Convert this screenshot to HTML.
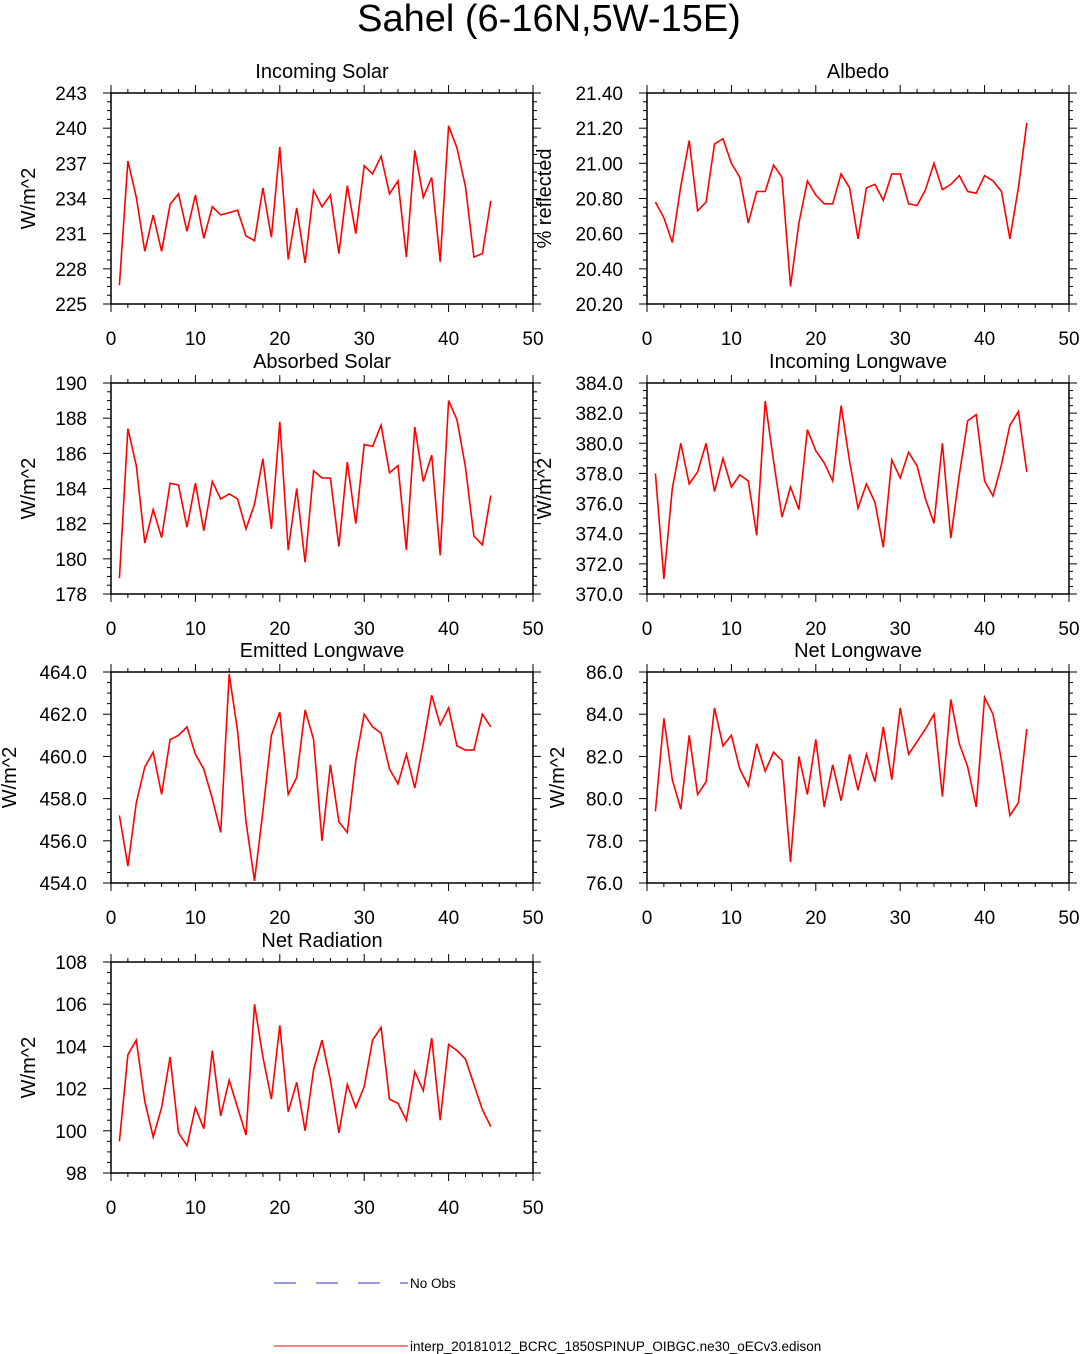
<!DOCTYPE html>
<html><head><meta charset="utf-8">
<style>
html,body{margin:0;padding:0;background:#fff;}
svg{display:block;font-family:"Liberation Sans",Arial,sans-serif;}
</style></head>
<body>
<svg id="fig" width="1081" height="1354" viewBox="0 0 1081 1354" xmlns="http://www.w3.org/2000/svg">
<text x="549" y="31" font-size="38" text-anchor="middle">Sahel (6-16N,5W-15E)</text>
<g>
<line x1="274" y1="1283" x2="408" y2="1283" stroke="#3333cc" stroke-width="1" stroke-dasharray="22,20"/>
<text x="410" y="1288" font-size="13.5">No Obs</text>
<line x1="274" y1="1346" x2="408" y2="1346" stroke="#ff0000" stroke-width="1"/>
<text x="410" y="1351" font-size="13.5">interp_20181012_BCRC_1850SPINUP_OIBGC.ne30_oECv3.edison</text>
</g>
</svg>
<script>
const xTicks=[0,10,20,30,40,50];
const solarVals=[226.6,237.2,234.1,229.5,232.6,229.5,233.5,234.4,231.2,234.3,230.6,233.3,232.6,232.8,233.0,230.8,230.4,234.9,230.7,238.4,228.8,233.2,228.5,234.7,233.3,234.3,229.3,235.1,231.0,236.8,236.1,237.6,234.4,235.5,229.0,238.1,234.1,235.8,228.6,240.2,238.3,235.0,229.0,229.3,233.8];
const albedoVals=[20.78,20.69,20.55,20.87,21.13,20.73,20.78,21.11,21.14,21.00,20.92,20.66,20.84,20.84,20.99,20.92,20.30,20.66,20.90,20.82,20.77,20.77,20.94,20.86,20.57,20.86,20.88,20.79,20.94,20.94,20.77,20.76,20.85,21.00,20.85,20.88,20.93,20.84,20.83,20.93,20.90,20.84,20.57,20.86,21.23];
const absorbedVals=[178.9,187.4,185.3,180.9,182.8,181.2,184.3,184.2,181.8,184.3,181.6,184.4,183.4,183.7,183.4,181.7,183.1,185.7,181.7,187.8,180.5,184.0,179.8,185.0,184.6,184.6,180.7,185.5,182.0,186.5,186.4,187.6,184.9,185.3,180.5,187.5,184.4,185.9,180.2,189.0,187.9,185.2,181.3,180.8,183.6];
const inLwVals=[378.0,371.0,377.0,380.0,377.3,378.1,380.0,376.8,379.0,377.1,377.9,377.5,373.9,382.8,378.8,375.1,377.1,375.6,380.9,379.5,378.7,377.5,382.5,378.8,375.7,377.3,376.1,373.1,378.9,377.7,379.4,378.5,376.3,374.7,380.0,373.7,377.9,381.5,381.9,377.5,376.5,378.6,381.2,382.1,378.1];
const emLwVals=[457.2,454.8,457.8,459.5,460.2,458.2,460.8,461.0,461.4,460.1,459.4,458.0,456.4,463.9,461.2,456.9,454.1,457.4,461.0,462.1,458.2,459.0,462.2,460.8,456.0,459.6,456.9,456.4,459.8,462.0,461.4,461.1,459.4,458.7,460.1,458.5,460.6,462.9,461.5,462.3,460.5,460.3,460.3,462.0,461.4];
const netLwVals=[79.4,83.8,80.9,79.5,83.0,80.2,80.8,84.3,82.5,83.0,81.4,80.6,82.6,81.3,82.2,81.8,77.0,82.0,80.2,82.8,79.6,81.6,79.9,82.1,80.4,82.1,80.8,83.4,80.9,84.3,82.1,82.7,83.3,84.0,80.1,84.7,82.6,81.5,79.6,84.8,84.0,81.8,79.2,79.8,83.3];
const netRadVals=[99.5,103.6,104.3,101.4,99.7,101.1,103.5,99.9,99.3,101.1,100.1,103.8,100.7,102.4,101.1,99.8,106.0,103.5,101.5,105.0,100.9,102.3,100.0,102.9,104.3,102.4,99.9,102.2,101.1,102.1,104.3,104.9,101.5,101.3,100.5,102.8,101.9,104.4,100.5,104.1,103.8,103.4,102.2,101.0,100.2];
const solarTicks=[225,228,231,234,237,240,243];
const albedoTicks=[20.2,20.4,20.6,20.8,21.0,21.2,21.4];
const absorbedTicks=[178,180,182,184,186,188,190];
const inLwTicks=[370,372,374,376,378,380,382,384];
const emLwTicks=[454,456,458,460,462,464];
const netLwTicks=[76,78,80,82,84,86];
const netRadTicks=[98,100,102,104,106,108];

const NS="http://www.w3.org/2000/svg";
const svg=document.getElementById('fig');
function mk(tag,attrs,parent){const e=document.createElementNS(NS,tag);for(const k in attrs)e.setAttribute(k,attrs[k]);parent.appendChild(e);return e;}

function panel(key,title,ytitle,ytx,vals,ticks,dec,x0,y0){
  const W=422,H=211;
  const g=mk('g',{},svg);
  
  
  const ymin=ticks[0],ymax=ticks[ticks.length-1];
  const sx=v=>x0+v/50*W;
  const sy=v=>y0+H-(v-ymin)/(ymax-ymin)*H;
  const box=mk('rect',{x:x0,y:y0,width:W,height:H,fill:'none',stroke:'#000','stroke-width':1.5},g);
  
  
  for(let v=0;v<=50;v+=2){
    const major=v%10===0;const L=major?8:4;const x=sx(v);
    mk('line',{x1:x,y1:y0+H,x2:x,y2:y0+H+L,stroke:'#000','stroke-width':1},g);
    mk('line',{x1:x,y1:y0,x2:x,y2:y0-L,stroke:'#000','stroke-width':1},g);
  }
  xTicks.forEach(v=>{
    const t=mk('text',{x:sx(v),y:y0+H+41,'font-size':19,'text-anchor':'middle'},g);
    
    
    t.textContent=v;
  });
  const step=ticks[1]-ticks[0];
  for(let i=0;i<ticks.length;i++){
    const y=sy(ticks[i]);
    mk('line',{x1:x0,y1:y,x2:x0-8,y2:y,stroke:'#000','stroke-width':1},g);
    mk('line',{x1:x0+W,y1:y,x2:x0+W+8,y2:y,stroke:'#000','stroke-width':1},g);
    if(i<ticks.length-1){
      for(let k=1;k<4;k++){const ym=sy(ticks[i]+step*k/4);
        mk('line',{x1:x0,y1:ym,x2:x0-4,y2:ym,stroke:'#000','stroke-width':1},g);
        mk('line',{x1:x0+W,y1:ym,x2:x0+W+4,y2:ym,stroke:'#000','stroke-width':1},g);}
    }
    const t=mk('text',{x:x0-24,y:y+7,'font-size':19,'text-anchor':'end'},g);
    
    
    t.textContent=ticks[i].toFixed(dec);
  }
  const tt=mk('text',{x:x0+W/2,y:y0-15,'font-size':20,'text-anchor':'middle'},g);
  
  
  tt.textContent=title;
  const yy=y0+H/2;
  const yt=mk('text',{x:ytx,y:yy,'font-size':20,'text-anchor':'middle',transform:'rotate(-90 '+ytx+' '+yy+')'},g);
  
  
  yt.textContent=ytitle;
  const pts=vals.map((v,i)=>sx(i+1).toFixed(1)+','+sy(v).toFixed(1)).join(' ');
  const pl=mk('polyline',{points:pts,fill:'none',stroke:'#ff0000','stroke-width':1.6},g);
  
  
}
const LX=111,RX=647;
panel('incoming-solar','Incoming Solar','W/m^2',35,solarVals,solarTicks,0,LX,93);
panel('albedo','Albedo','% reflected',551,albedoVals,albedoTicks,2,RX,93);
panel('absorbed-solar','Absorbed Solar','W/m^2',35,absorbedVals,absorbedTicks,0,LX,383);
panel('incoming-longwave','Incoming Longwave','W/m^2',551,inLwVals,inLwTicks,1,RX,383);
panel('emitted-longwave','Emitted Longwave','W/m^2',16,emLwVals,emLwTicks,1,LX,672);
panel('net-longwave','Net Longwave','W/m^2',564,netLwVals,netLwTicks,1,RX,672);
panel('net-radiation','Net Radiation','W/m^2',35,netRadVals,netRadTicks,0,LX,962);
</script>
</body></html>
